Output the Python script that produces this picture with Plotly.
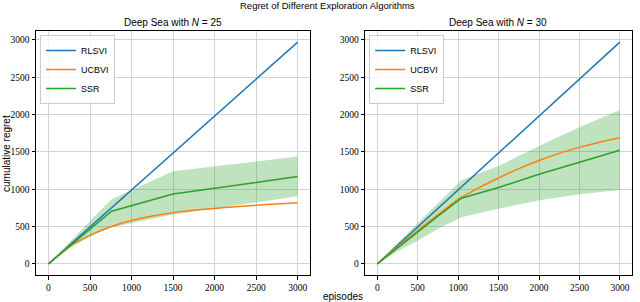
import plotly.graph_objects as go

# ---------------- data ----------------
rlsvi_x = [0, 500, 1000, 1500, 2000, 2500, 3000]
rlsvi_25 = [0, 495, 990, 1485, 1980, 2475, 2970]
rlsvi_30 = [0, 495, 990, 1485, 1980, 2475, 2970]

ucbvi_x = [0, 250, 500, 750, 1000, 1250, 1500, 1750, 2000, 2250, 2500, 2750, 3000]
ucbvi_25 = [0, 232, 382, 497, 580, 640, 685, 717, 743, 765, 785, 803, 820]
ucbvi_30 = [0, 228, 447, 658, 865, 1015, 1150, 1275, 1385, 1480, 1560, 1630, 1690]

ssr_x_25 = [0, 250, 500, 760, 1500, 3000]
ssr_25 = [0, 235, 468, 705, 935, 1170]
ssr_lo_25 = [0, 205, 368, 490, 662, 905]
ssr_hi_25 = [0, 290, 575, 865, 1240, 1438]

ssr_x_30 = [0, 250, 500, 750, 1040, 1500, 2000, 2500, 3000]
ssr_30 = [0, 215, 430, 640, 880, 1022, 1200, 1362, 1522]
ssr_lo_30 = [0, 170, 310, 470, 625, 740, 852, 932, 990]
ssr_hi_30 = [0, 280, 545, 815, 1120, 1310, 1580, 1830, 2060]

x_ticks = [0, 500, 1000, 1500, 2000, 2500, 3000]
y_ticks = [0, 500, 1000, 1500, 2000, 2500, 3000]

C_BLUE = "#1f77b4"
C_ORANGE = "#ff7f0e"
C_GREEN = "#2ca02c"
BAND = "rgba(44,160,44,0.3)"

SANS = "Liberation Sans"
SERIF = "Liberation Serif"

W, H = 640, 302
L, R, T, B = 36, 631.7, 31, 275   # plot area in pixels
PW, PH = R - L, B - T


def px(xp):
    return (xp - L) / PW


def py(yp):
    return (B - yp) / PH


fig = go.Figure()

panels = [
    ("x", "y", "legend", ssr_x_25, ssr_lo_25, ssr_hi_25, ssr_25, rlsvi_25, ucbvi_25),
    ("x2", "y2", "legend2", ssr_x_30, ssr_lo_30, ssr_hi_30, ssr_30, rlsvi_30, ucbvi_30),
]

for xa, ya, lg, sx, slo, shi, s, r, u in panels:
    fig.add_trace(go.Scatter(x=sx + sx[::-1], y=shi + slo[::-1], fill="toself",
                             fillcolor=BAND, line=dict(width=0), mode="lines",
                             hoverinfo="skip", showlegend=False, xaxis=xa, yaxis=ya))
    fig.add_trace(go.Scatter(x=rlsvi_x, y=r, mode="lines", name="RLSVI",
                             line=dict(color=C_BLUE, width=1.5), xaxis=xa, yaxis=ya, legend=lg))
    fig.add_trace(go.Scatter(x=ucbvi_x, y=u, mode="lines", name="UCBVI",
                             line=dict(color=C_ORANGE, width=1.5, shape="spline", smoothing=0.6),
                             xaxis=xa, yaxis=ya, legend=lg))
    fig.add_trace(go.Scatter(x=sx, y=s, mode="lines", name="SSR",
                             line=dict(color=C_GREEN, width=1.5), xaxis=xa, yaxis=ya, legend=lg))

axis_common = dict(showline=True, mirror=True, linecolor="black", linewidth=1,
                   ticks="outside", ticklen=3.5, tickwidth=1, tickcolor="black",
                   showgrid=True, gridcolor="#d3d3d3", gridwidth=1, zeroline=False,
                   automargin=False,
                   tickfont=dict(family=SERIF, size=9.5, color="black"))

legend_common = dict(xanchor="left", yanchor="top",
                     bgcolor="rgba(255,255,255,0.8)", bordercolor="#cccccc", borderwidth=1,
                     font=dict(family=SANS, size=9, color="black"), tracegroupgap=0,
                     itemwidth=30)

fig.update_layout(
    width=W, height=H,
    margin=dict(l=L, r=W - R, t=T, b=H - B, autoexpand=False),
    paper_bgcolor="white", plot_bgcolor="white",
    xaxis=dict(domain=[0, px(310)], range=[-150, 3150], tickvals=x_ticks, anchor="y", **axis_common),
    yaxis=dict(domain=[0, 1], range=[-148.5, 3118.5], tickvals=y_ticks, anchor="x", **axis_common),
    xaxis2=dict(domain=[px(365), 1], range=[-150, 3150], tickvals=x_ticks, anchor="y2", **axis_common),
    yaxis2=dict(domain=[0, 1], range=[-148.5, 3118.5], tickvals=y_ticks, anchor="x2", **axis_common),
    legend=dict(x=px(40), y=py(35), **legend_common),
    legend2=dict(x=px(369), y=py(35), **legend_common),
    showlegend=True,
)

ann = [
    dict(text="Regret of Different Exploration Algorithms", x=px(327), y=py(5),
         font=dict(family=SANS, size=9.5, color="black")),
    dict(text="Deep Sea with <i>N</i> = 25", x=px(173), y=py(22),
         font=dict(family=SANS, size=10, color="black")),
    dict(text="Deep Sea with <i>N</i> = 30", x=px(498), y=py(22),
         font=dict(family=SANS, size=10, color="black")),
    dict(text="episodes", x=px(343), y=py(296),
         font=dict(family=SANS, size=10, color="black")),
    dict(text="cumulative regret", x=px(6), y=py(153), textangle=-90,
         font=dict(family=SANS, size=10, color="black")),
]
for a in ann:
    fig.add_annotation(xref="paper", yref="paper", showarrow=False,
                       xanchor="center", yanchor="middle", **a)

fig.write_html("out.html", config={"displayModeBar": False},
               post_script="document.body.style.margin='0';document.body.style.overflow='hidden';")
